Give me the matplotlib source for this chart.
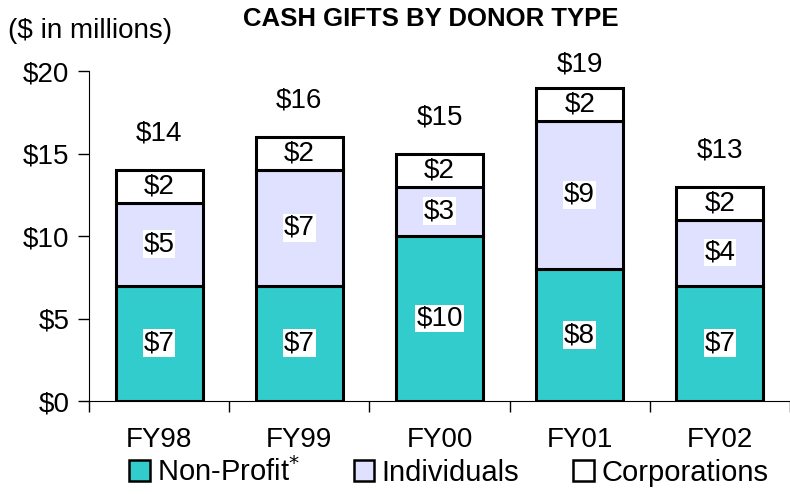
import matplotlib
matplotlib.use("Agg")
import matplotlib.pyplot as plt
from matplotlib.patches import Patch
import numpy as np

plt.rcParams['font.family'] = ['Liberation Sans', 'DejaVu Sans']

categories = ["FY98", "FY99", "FY00", "FY01", "FY02"]
non_profit = [7, 7, 10, 8, 7]
individuals = [5, 7, 3, 9, 4]
corporations = [2, 2, 2, 2, 2]
totals = [14, 16, 15, 19, 13]
series_names = ["Non-Profit", "Individuals", "Corporations"]
colors = ["#33CCCC", "#E0E0FF", "#FFFFFF"]

fig = plt.figure(figsize=(7.9, 4.94), dpi=100)
ax = fig.add_axes([89/790, 1-401/494, 1-89/790, (401-71)/494])

FS = 20
x = np.arange(len(categories))
w = 0.62
bottoms = np.zeros(len(categories))
for vals, col in zip([non_profit, individuals, corporations], colors):
    ax.bar(x, vals, w, bottom=bottoms, color=col, edgecolor="black", linewidth=2.2, zorder=2)
    for xi, b, v in zip(x, bottoms, vals):
        ax.text(xi, b + v/2, f"${v}", ha="center", va="center", fontsize=FS,
                bbox=dict(facecolor="white", edgecolor="none", pad=0.5), zorder=3)
    bottoms += np.array(vals)

for xi, t in zip(x, totals):
    ax.text(xi, min(t + 2.2, 20.4), f"${t}", ha="center", va="center", fontsize=FS)

ax.set_xlim(-0.5, 4.42)
ax.set_ylim(0, 20)
ax.set_yticks([0, 5, 10, 15, 20])
ax.set_yticklabels(["$0", "$5", "$10", "$15", "$20"], fontsize=FS)
ax.set_xticks(x)
ax.set_xticklabels(categories, fontsize=FS)
ax.tick_params(axis="x", which="major", length=0, pad=19)
ax.set_xticks(np.arange(-0.5, 4.6, 1), minor=True)
ax.tick_params(axis="x", which="minor", length=8, direction="out", width=1)
ax.tick_params(axis="y", length=8, width=1, pad=6)
ax.spines["top"].set_visible(False)
ax.spines["right"].set_visible(False)

fig.text(0.545, 0.962, "CASH GIFTS BY DONOR TYPE", ha="center", va="center",
         fontsize=18.5, fontweight="bold")
fig.text(0.01, 0.938, "($ in millions)", ha="left", va="center", fontsize=FS)

handles = [Patch(facecolor=c, edgecolor="black", linewidth=1.8) for c in colors]
labels = ["Non-Profit$^{*}$", "Individuals", "Corporations"]
fig.legend(handles, labels, loc="center", bbox_to_anchor=(0.568, 0.045), ncol=3,
           frameon=False, fontsize=21, handlelength=0.7, handleheight=0.7,
           handletextpad=0.25, columnspacing=1.85, borderpad=0)

fig.savefig("out.png", dpi=100)
